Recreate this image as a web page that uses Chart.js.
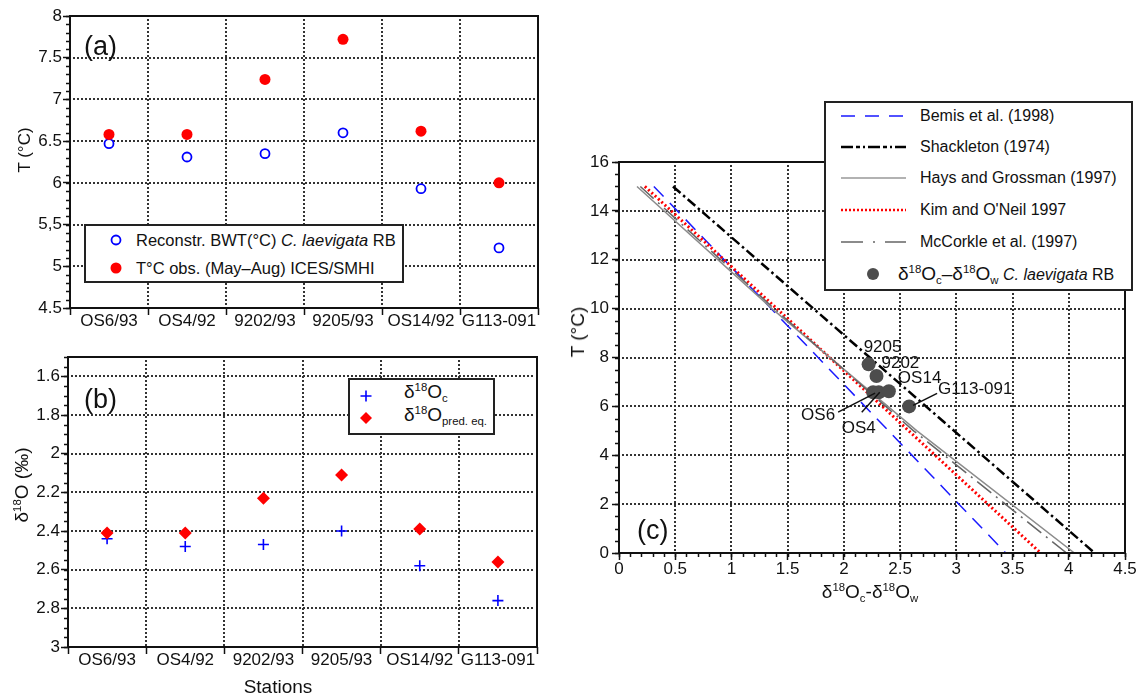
<!DOCTYPE html>
<html>
<head>
<meta charset="utf-8">
<script src="https://cdn.jsdelivr.net/npm/chart.js@4.4.1/dist/chart.umd.min.js"></script>
<style>
  body { margin: 0; background: #fff; }
  #fig { position: relative; width: 1142px; height: 696px; overflow: hidden;
         font-family: "Liberation Sans", Arial, sans-serif; color: #111; }
  canvas { position: absolute; }
  .txt { position: absolute; white-space: nowrap; line-height: 20px; height: 20px; }
  .rot { position: absolute; white-space: nowrap; transform: translate(-50%, -50%) rotate(-90deg); }
  .mid { position: absolute; white-space: nowrap; transform: translate(-50%, -50%); }
  .box { position: absolute; border: 2px solid #222; background: #fff; box-sizing: border-box; }
  .panel { position: absolute; font-size: 27px; line-height: 1; }
  sup { font-size: 0.6em; vertical-align: 0.6em; line-height: 0; }
  sub { font-size: 0.6em; vertical-align: -0.35em; line-height: 0; }
</style>
</head>
<body>
<div id="fig">
  <canvas id="chartA" width="560" height="340" style="left:0;top:0"></canvas>
  <canvas id="chartB" width="560" height="356" style="left:0;top:340px"></canvas>
  <canvas id="chartC" width="572" height="696" style="left:570px;top:0"></canvas>

  <div class="panel" style="left:84px;top:33px">(a)</div>
  <div class="panel" style="left:84px;top:386px">(b)</div>
  <div class="panel" style="left:637px;top:517px">(c)</div>

  <div class="rot" style="left:25px;top:150px;font-size:17px">T (°C)</div>
  <div class="rot" style="left:22px;top:485px;font-size:19px">δ<sup>18</sup>O (‰)</div>
  <div class="mid" style="left:278px;top:687px;font-size:19px">Stations</div>
  <div class="rot" style="left:578px;top:332px;font-size:19px">T (°C)</div>
  <div class="mid" style="left:870px;top:592px;font-size:19px">δ<sup>18</sup>O<sub>c</sub>-δ<sup>18</sup>O<sub>w</sub></div>

  <div class="box" style="left:84px;top:224px;width:320px;height:59px;font-size:16.5px">
    <svg style="position:absolute;left:0;top:0" width="316" height="55">
      <circle cx="30" cy="14" r="4.5" fill="#fff" stroke="#0000ff" stroke-width="1.8"/>
      <circle cx="30" cy="42" r="5.5" fill="#ff0000"/>
    </svg>
    <div class="txt" style="left:50px;top:4px">Reconstr. BWT(°C) <i>C. laevigata</i> RB</div>
    <div class="txt" style="left:50px;top:32px">T°C obs. (May–Aug) ICES/SMHI</div>
  </div>

  <div class="box" style="left:348px;top:378px;width:147px;height:57px;font-size:19px">
    <svg style="position:absolute;left:0;top:0" width="143" height="53">
      <path d="M10.5 16 H21.5 M16 10.5 V21.5" stroke="#0000ff" stroke-width="1.6" fill="none"/>
      <path d="M16 32 L22 38 L16 44 L10 38 Z" fill="#ff0000"/>
    </svg>
    <div class="txt" style="left:54px;top:2px">δ<sup>18</sup>O<sub>c</sub></div>
    <div class="txt" style="left:54px;top:25px">δ<sup>18</sup>O<sub>pred. eq.</sub></div>
  </div>

  <div class="box" style="left:824px;top:101px;width:309px;height:190px;font-size:16px">
    <svg style="position:absolute;left:0;top:0" width="305" height="186">
      <line x1="15" y1="13" x2="80" y2="13" stroke="#1a1aff" stroke-width="1.5" stroke-dasharray="14 10"/>
      <line x1="15" y1="44" x2="80" y2="44" stroke="#000" stroke-width="2.5" stroke-dasharray="12 3 4 3 2 3"/>
      <line x1="15" y1="75" x2="80" y2="75" stroke="#999" stroke-width="1.5"/>
      <line x1="15" y1="107" x2="80" y2="107" stroke="#ff0000" stroke-width="2.5" stroke-dasharray="2 2"/>
      <line x1="15" y1="139" x2="80" y2="139" stroke="#666" stroke-width="1.5" stroke-dasharray="22 10 2 10"/>
      <circle cx="47" cy="171" r="6" fill="#4d4d4d"/>
    </svg>
    <div class="txt" style="left:94px;top:3px">Bemis et al. (1998)</div>
    <div class="txt" style="left:94px;top:34px">Shackleton (1974)</div>
    <div class="txt" style="left:94px;top:65px">Hays and Grossman (1997)</div>
    <div class="txt" style="left:94px;top:97px">Kim and O'Neil 1997</div>
    <div class="txt" style="left:94px;top:129px">McCorkle et al. (1997)</div>
    <div class="txt" style="left:72px;top:161px"><span style="font-size:19px">δ<sup>18</sup>O<sub>c</sub>–δ<sup>18</sup>O<sub>w</sub></span> <i>C. laevigata</i> RB</div>
  </div>
</div>

<script>
// (a) temperatures per station
const stations = ['OS6/93', 'OS4/92', '9202/93', '9205/93', 'OS14/92', 'G113-091'];
const bwtReconstr = [6.47, 6.31, 6.35, 6.60, 5.93, 5.22];
const tObserved = [6.58, 6.58, 7.24, 7.72, 6.62, 6.00];
const tTicksA = [4.5, 5, 5.5, 6, 6.5, 7, 7.5, 8];
const tLabelsA = ['4.5', '5', '5,5', '6', '6.5', '7', '7.5', '8'];

// (b) d18O per station
const d18Oc = [2.44, 2.48, 2.47, 2.40, 2.58, 2.76];
const d18Opred = [2.41, 2.41, 2.23, 2.11, 2.39, 2.56];
const dTicksB = [1.6, 1.8, 2, 2.2, 2.4, 2.6, 2.8, 3];
const dLabelsB = ['1.6', '1.8', '2', '2.2', '2.4', '2.6', '2.8', '3'];

// (c) paleotemperature equations and samples
const pointNames = ['OS6', 'OS4', '9202', '9205', 'OS14', 'G113-091'];
const dcdw = [2.26, 2.31, 2.29, 2.22, 2.40, 2.58];
const tPoints = [6.58, 6.58, 7.24, 7.72, 6.62, 6.00];
const bemisX = [0.31, 3.44];
const bemisT = [15, 0];
const shackX = [0.48, 4.23];
const shackT = [15, 0];
const haysX = [0.16, 1.36, 2.65, 4.05];
const haysT = [15, 10, 5, 0];
const kimX = [0.23, 3.75];
const kimT = [15, 0];
const mccX = [0.19, 1.38, 2.62, 3.98];
const mccT = [15, 10, 5, 0];
const xTicksC = [0, 0.5, 1, 1.5, 2, 2.5, 3, 3.5, 4, 4.5];
const xLabelsC = ['0', '0.5', '1', '1.5', '2', '2.5', '3', '3.5', '4', '4.5'];
const tTicksC = [0, 2, 4, 6, 8, 10, 12, 14, 16];
const tLabelsC = ['0', '2', '4', '6', '8', '10', '12', '14', '16'];

Chart.defaults.font.family = '"Liberation Sans", Arial, sans-serif';
Chart.defaults.color = '#111';

const tickFont = { size: 17 };

// dotted grid (small squares every 4px), frame round the plot area, minor ticks
function dotLine(ctx, x1, y1, x2, y2) {
  const horiz = y1 === y2;
  const len = horiz ? x2 - x1 : y2 - y1;
  for (let d = 3; d < len - 2; d += 4) {
    if (horiz) ctx.fillRect(x1 + d, y1 - 1, 2, 2);
    else ctx.fillRect(x1 - 1, y1 + d, 2, 2);
  }
}

const axisDecor = {
  id: 'axisDecor',
  beforeDatasetsDraw(chart) {
    const { ctx, chartArea: a, scales } = chart;
    const xs = scales.x, ys = scales.y;
    let xPix;
    if (xs.type === 'category') {
      xPix = xs.getLabels().slice(1).map((l, i) => xs.getPixelForValue(i + 0.5));
    } else {
      xPix = xs.ticks.map(t => xs.getPixelForValue(t.value));
    }
    const yPix = ys.ticks.map(t => ys.getPixelForValue(t.value));
    ctx.save();
    ctx.fillStyle = '#333';
    const top = Math.round(a.top), bottom = Math.round(a.bottom);
    const left = Math.round(a.left), right = Math.round(a.right);
    xPix.forEach(px => dotLine(ctx, Math.round(px), top, Math.round(px), bottom));
    yPix.forEach(py => dotLine(ctx, left, Math.round(py), right, Math.round(py)));
    ctx.restore();
  },
  afterDatasetsDraw(chart, args, opts) {
    const { ctx, chartArea: a, scales } = chart;
    ctx.save();
    ctx.setLineDash([]);
    ctx.strokeStyle = '#111';
    ctx.lineWidth = 1.5;
    ctx.beginPath();
    if (opts.yMinor) {
      const s = scales.y;
      const n = Math.round((s.max - s.min) / opts.yMinor);
      for (let i = 0; i <= n; i++) {
        const y = Math.round(s.getPixelForValue(s.min + i * opts.yMinor)) + 0.5;
        ctx.moveTo(a.left - 4, y);
        ctx.lineTo(a.left, y);
      }
    }
    if (opts.xMinor) {
      const s = scales.x;
      const n = Math.round((s.max - s.min) / opts.xMinor);
      for (let i = 0; i <= n; i++) {
        const x = Math.round(s.getPixelForValue(s.min + i * opts.xMinor)) + 0.5;
        ctx.moveTo(x, a.bottom);
        ctx.lineTo(x, a.bottom + 4);
      }
    }
    ctx.stroke();
    ctx.lineWidth = 2;
    ctx.strokeRect(a.left, a.top, a.right - a.left, a.bottom - a.top);
    ctx.restore();
  }
};
Chart.register(axisDecor);

function gridStyle() {
  return { drawOnChartArea: false, color: '#333', lineWidth: 1, tickLength: 7,
           tickColor: '#111', tickWidth: 1.5, tickBorderDash: [] };
}

function valueAxis(min, max, ticks, labels, width, padding, reverse) {
  return {
    type: 'linear', min: min, max: max, reverse: reverse,
    afterBuildTicks: s => { s.ticks = ticks.map(v => ({ value: v })); },
    afterFit: s => { s.width = width; },
    grid: gridStyle(),
    border: { display: false },
    ticks: { font: tickFont, color: '#111', padding: padding, callback: (v, i) => labels[i] }
  };
}

function categoryAxis(height) {
  return {
    type: 'category', offset: true,
    afterFit: s => { s.height = height; },
    grid: Object.assign(gridStyle(), { offset: true }),
    border: { display: false },
    ticks: { font: tickFont, color: '#111', padding: -4, maxRotation: 0, minRotation: 0, autoSkip: false }
  };
}

const common = {
  responsive: false,
  animation: false,
  devicePixelRatio: 1
};

new Chart(document.getElementById('chartA'), {
  type: 'line',
  data: {
    labels: stations,
    datasets: [
      { data: bwtReconstr, showLine: false, order: 1, pointStyle: 'circle', pointRadius: 4.5,
        pointBorderWidth: 1.8, borderColor: '#0000ff', backgroundColor: '#ffffff' },
      { data: tObserved, showLine: false, order: 0, pointStyle: 'circle', pointRadius: 5.5,
        pointBorderWidth: 0, borderColor: '#ff0000', backgroundColor: '#ff0000' }
    ]
  },
  options: Object.assign({}, common, {
    layout: { padding: { left: 0, top: 16, right: 22, bottom: 0 } },
    plugins: { legend: { display: false }, tooltip: { enabled: false }, axisDecor: { yMinor: 0.1 } },
    scales: {
      x: categoryAxis(32),
      y: valueAxis(4.5, 8, tTicksA, tLabelsA, 70, 1, false)
    }
  })
});

new Chart(document.getElementById('chartB'), {
  type: 'line',
  data: {
    labels: stations,
    datasets: [
      { data: d18Oc, showLine: false, order: 1, pointStyle: 'cross', pointRadius: 5.5,
        pointBorderWidth: 1.6, borderColor: '#0000ff', backgroundColor: '#0000ff' },
      { data: d18Opred, showLine: false, order: 0, pointStyle: 'rectRot', pointRadius: 6.5,
        pointBorderWidth: 0, borderColor: '#ff0000', backgroundColor: '#ff0000' }
    ]
  },
  options: Object.assign({}, common, {
    layout: { padding: { left: 0, top: 17, right: 23, bottom: 0 } },
    plugins: { legend: { display: false }, tooltip: { enabled: false }, axisDecor: { yMinor: 0.05 } },
    scales: {
      x: categoryAxis(49),
      y: valueAxis(1.5, 3, dTicksB, dLabelsB, 68, 1, true)
    }
  })
});

function pts(xs, ys) {
  return xs.map((x, i) => ({ x: x, y: ys[i] }));
}

const pointLabels = {
  id: 'pointLabels',
  afterDatasetsDraw(chart) {
    const { ctx, scales: { x, y } } = chart;
    // text offset (left, baseline) and optional leader line, in px from the point
    const place = {
      'OS6': [-72, 28, -35, 20, 2, 1],
      'OS4': [-37, 41, -17, 20, 1, 0],
      '9202': [5, -8],
      '9205': [-5, -12],
      'OS14': [9, -8],
      'G113-091': [29, -12, 4, -1, 28, -13]
    };
    ctx.save();
    ctx.font = '17px "Liberation Sans", Arial, sans-serif';
    ctx.fillStyle = '#111';
    ctx.strokeStyle = '#111';
    ctx.lineWidth = 1.5;
    pointNames.forEach((name, i) => {
      const px = x.getPixelForValue(dcdw[i]);
      const py = y.getPixelForValue(tPoints[i]);
      const p = place[name];
      ctx.fillText(name, px + p[0], py + p[1]);
      if (p.length > 2) {
        ctx.beginPath();
        ctx.moveTo(px + p[2], py + p[3]);
        ctx.lineTo(px + p[4], py + p[5]);
        ctx.stroke();
      }
    });
    ctx.restore();
  }
};

const xAxisC = valueAxis(0, 4.5, xTicksC, xLabelsC, 0, -1, false);
xAxisC.afterFit = s => { s.height = 40; };

new Chart(document.getElementById('chartC'), {
  type: 'scatter',
  data: {
    datasets: [
      { data: pts(dcdw, tPoints), order: 0, pointRadius: 7, pointBorderWidth: 0,
        backgroundColor: '#4d4d4d', borderColor: '#4d4d4d' },
      { data: pts(bemisX, bemisT), order: 5, showLine: true, pointRadius: 0,
        borderColor: '#1a1aff', borderWidth: 1.5, borderDash: [14, 9] },
      { data: pts(kimX, kimT), order: 4, showLine: true, pointRadius: 0,
        borderColor: '#ff0000', borderWidth: 3, borderDash: [2, 2.5] },
      { data: pts(haysX, haysT), order: 3, showLine: true, pointRadius: 0,
        borderColor: '#8c8c8c', borderWidth: 1.5 },
      { data: pts(mccX, mccT), order: 2, showLine: true, pointRadius: 0,
        borderColor: '#666666', borderWidth: 1.5, borderDash: [18, 6, 2, 6] },
      { data: pts(shackX, shackT), order: 1, showLine: true, pointRadius: 0,
        borderColor: '#000000', borderWidth: 2.5, borderDash: [10, 3.5, 2.5, 3.5] }
    ]
  },
  options: Object.assign({}, common, {
    layout: { padding: { left: 0, top: 162, right: 17, bottom: 103 } },
    plugins: { legend: { display: false }, tooltip: { enabled: false }, axisDecor: { yMinor: 0.5, xMinor: 0.1 } },
    scales: {
      x: xAxisC,
      y: valueAxis(0, 16, tTicksC, tLabelsC, 49, 3, false)
    }
  }),
  plugins: [pointLabels]
});
</script>
</body>
</html>
